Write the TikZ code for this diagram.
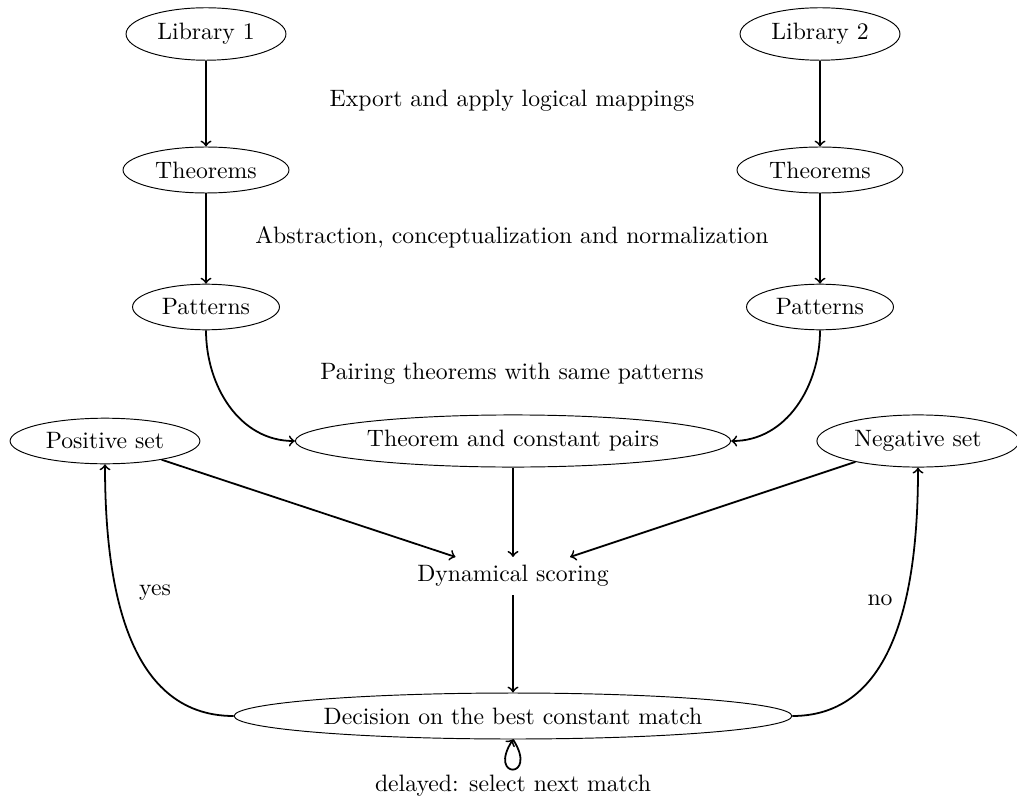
\documentclass[tikz,border=0pt]{standalone}
\usetikzlibrary{shapes.geometric}
\begin{document}
\begin{tikzpicture}[x=0.4219pt,y=-0.4219pt,
  ell/.style={draw,ellipse,thin},
  plain/.style={inner sep=3.33pt},
  conn/.style={->,line width=0.75pt},
  lbl/.style={inner sep=2pt}]
\useasboundingbox (0,0) rectangle (1017,799);
\node[ell] (lib1) at (206,34) {Library 1};
\node[ell] (lib2) at (820,34) {Library 2};
\node[ell] (th1) at (206,170) {Theorems};
\node[ell] (th2) at (820,170) {Theorems};
\node[ell] (pa1) at (206,307) {Patterns};
\node[ell] (pa2) at (820,307) {Patterns};
\node[ell] (pairs) at (513,441) {Theorem and constant pairs};
\node[ell] (pos) at (105,441) {Positive set};
\node[ell] (neg) at (918,441) {Negative set};
\node[plain] (dyn) at (513,576) {Dynamical scoring};
\node[ell] (dec) at (513,716) {Decision on the best constant match};
\node[lbl] (l1) at (512,101) {Export and apply logical mappings};
\node[lbl] (l2) at (512,237) {Abstraction, conceptualization and normalization};
\node[lbl] (l3) at (512,374) {Pairing theorems with same patterns};
\node[lbl] (lyes) at (155,593) {yes};
\node[lbl] (lno) at (880,600) {no};
\node[lbl] (ldel) at (513,786) {delayed: select next match};
\draw[conn] (lib1) -- (th1);
\draw[conn] (lib2) -- (th2);
\draw[conn] (th1) -- (pa1);
\draw[conn] (th2) -- (pa2);
\draw[conn] (pa1.south) to[out=-90,in=180] (pairs.west);
\draw[conn] (pa2.south) to[out=-90,in=0] (pairs.east);
\draw[conn] (pos) -- (dyn);
\draw[conn] (neg) -- (dyn);
\draw[conn] (pairs) -- (dyn);
\draw[conn] (dyn) -- (dec);
\draw[conn] (dec.west) to[out=180,in=-90] (pos.south);
\draw[conn] (dec.east) to[out=0,in=-90] (neg.south);
\draw[conn] (dec.south) .. controls +(26,40) and +(-26,40) .. (dec.south);
\end{tikzpicture}
\end{document}
